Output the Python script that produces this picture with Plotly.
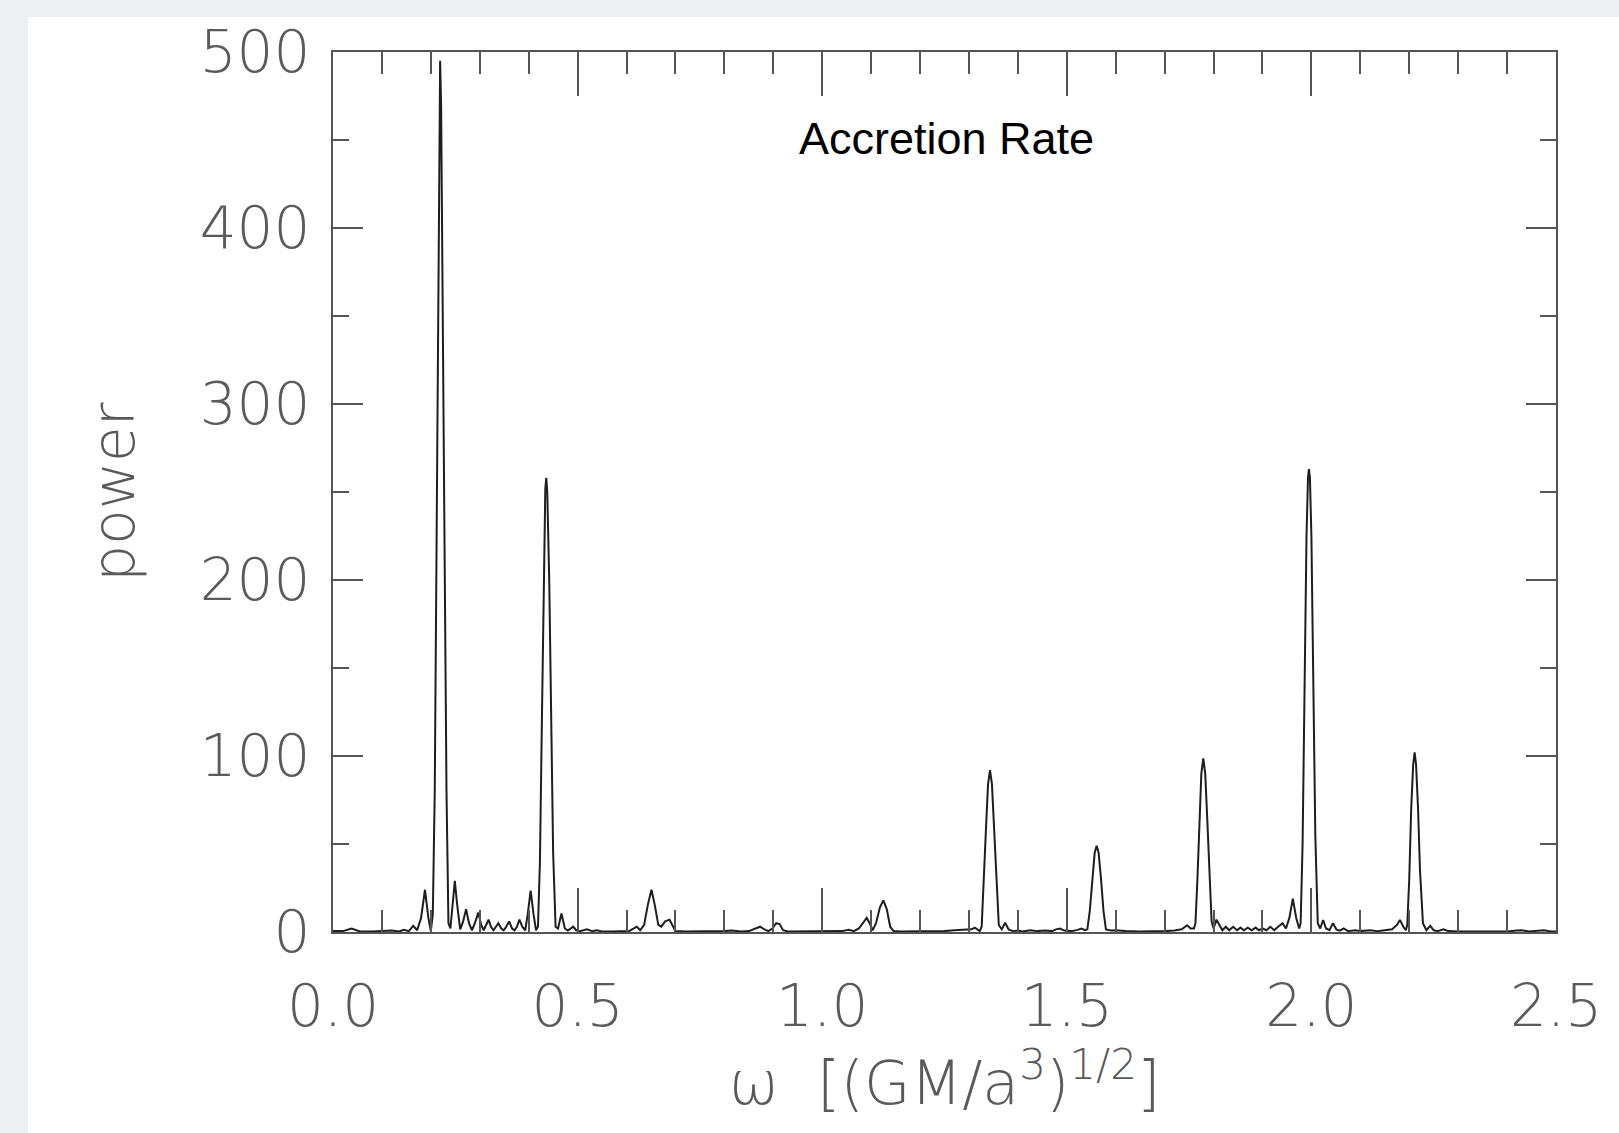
import plotly.graph_objects as go

# Frequency omega [(GM/a^3)^(1/2)] and spectral power
omega = [
    0.000, 0.020, 0.038, 0.055, 0.080, 0.100, 0.120, 0.135, 0.145, 0.155,
    0.164, 0.172, 0.180, 0.188, 0.195, 0.200,
    0.204, 0.208, 0.212, 0.215, 0.217, 0.219, 0.221, 0.224, 0.228, 0.232, 0.236,
    0.240, 0.244, 0.249, 0.254, 0.260, 0.266, 0.272, 0.278, 0.284, 0.290,
    0.297, 0.303, 0.308, 0.313, 0.318, 0.323, 0.328, 0.333, 0.338, 0.344,
    0.349, 0.354, 0.360, 0.366, 0.371, 0.376, 0.381, 0.387, 0.393, 0.398,
    0.404, 0.410, 0.415,
    0.419, 0.423, 0.427, 0.431, 0.434, 0.436, 0.438, 0.442, 0.446, 0.450, 0.455,
    0.460, 0.467, 0.474, 0.480, 0.486, 0.491, 0.497, 0.505, 0.519, 0.530,
    0.539, 0.550, 0.570, 0.590, 0.605, 0.615, 0.621, 0.628,
    0.636, 0.644, 0.651, 0.658, 0.665, 0.671, 0.679, 0.688, 0.695, 0.700,
    0.720, 0.750, 0.780, 0.800, 0.815, 0.835, 0.850, 0.862, 0.873, 0.882,
    0.890, 0.898, 0.906, 0.913, 0.920, 0.930, 0.950, 1.000, 1.040, 1.054,
    1.065, 1.075, 1.085, 1.091, 1.097, 1.103, 1.110, 1.118, 1.125, 1.132,
    1.139, 1.146, 1.160, 1.200, 1.230, 1.250, 1.270, 1.290, 1.305, 1.312,
    1.318, 1.322,
    1.326, 1.330, 1.335, 1.339, 1.343, 1.347, 1.351, 1.356, 1.361,
    1.367, 1.374, 1.381, 1.390, 1.400, 1.410, 1.425, 1.440, 1.455, 1.470,
    1.478, 1.486, 1.495, 1.510, 1.522, 1.530, 1.537,
    1.542, 1.547, 1.552, 1.557, 1.561, 1.565, 1.570, 1.575, 1.580,
    1.590, 1.600, 1.620, 1.650, 1.680, 1.700, 1.720, 1.735, 1.746, 1.753, 1.760,
    1.763, 1.767, 1.771, 1.775, 1.779, 1.783, 1.787, 1.791, 1.796,
    1.800, 1.806, 1.812, 1.818, 1.825, 1.832, 1.840, 1.848, 1.855, 1.862,
    1.870, 1.878, 1.886, 1.893, 1.900, 1.908, 1.916, 1.924, 1.932, 1.941,
    1.948, 1.955, 1.962, 1.969, 1.975,
    1.978, 1.982, 1.986, 1.990, 1.993, 1.995, 1.997, 2.000, 2.004, 2.008, 2.013,
    2.018, 2.024, 2.030, 2.037, 2.044, 2.051, 2.058, 2.066, 2.075, 2.090,
    2.100, 2.120, 2.135, 2.150, 2.165, 2.175, 2.181, 2.188, 2.193,
    2.196, 2.200, 2.204, 2.208, 2.211, 2.214, 2.218, 2.222, 2.228,
    2.235, 2.243, 2.250, 2.258, 2.270, 2.280, 2.300, 2.350, 2.400, 2.420,
    2.430, 2.445, 2.465, 2.475, 2.490, 2.500,
]
power = [
    0.5, 0.5, 2.0, 0.3, 0.3, 0.5, 0.8, 0.3, 1.2, 0.5,
    3.5, 1.0, 8.0, 24.0, 8.0, 0.5,
    10, 80, 230, 380, 460, 495, 470, 380, 220, 80, 5,
    2.0, 15, 29, 15, 1.5, 6, 13, 5, 1.0, 5,
    11, 4, 1.0, 4, 7, 3, 1.0, 3, 5, 2,
    1.0, 3, 6, 2, 1.0, 3, 7, 3, 1.0, 10,
    23.5, 10, 1.0,
    3, 40, 120, 210, 252, 258, 250, 200, 120, 45, 3,
    2, 10.5, 2, 0.8, 2, 3, 1.0, 0.5, 1.5, 0.5,
    1.0, 0.3, 0.3, 0.3, 0.5, 2, 3, 1.0,
    4, 16, 24, 15, 4, 3, 6, 7, 3, 0.5,
    0.3, 0.3, 0.3, 0.5, 0.8, 0.3, 0.5, 2, 3, 1.5,
    0.5, 2, 5, 4.5, 1.0, 0.3, 0.3, 0.3, 0.5, 1.2,
    0.5, 2, 6, 8, 5, 1.0, 5, 14, 18, 13,
    3, 0.5, 0.3, 0.3, 0.3, 0.5, 1.0, 1.2, 1.5, 2.5,
    1.5, 0.5,
    3, 25, 60, 84, 92, 84, 60, 28, 4,
    1.5, 5.3, 1.5, 0.5, 0.8, 0.3, 1.0, 0.5, 0.8, 0.5,
    1.5, 2, 0.8, 0.5, 1.2, 2, 1.0,
    1.5, 12, 30, 45, 49, 45, 30, 12, 1.5,
    0.8, 1.0, 0.5, 0.3, 0.3, 0.5, 0.8, 1.5, 3.8, 2, 2,
    5, 30, 65, 90, 98.7, 90, 65, 35, 6,
    2, 7, 4, 1.0, 3, 1.0, 3, 1.0, 2.5, 1.0,
    2.5, 1.0, 2.5, 1.0, 2, 1.0, 3, 1.0, 3, 5,
    2, 8, 19, 8, 2,
    5, 50, 140, 225, 258, 263, 258, 225, 140, 55, 5,
    2, 6.8, 2, 1.0, 5, 1.5, 0.8, 2, 0.5, 1.0,
    0.5, 1.0, 0.5, 1.0, 1.5, 4, 6.8, 3, 1.0,
    4, 30, 70, 95, 102, 95, 70, 35, 5,
    1.0, 3.5, 1.0, 0.5, 1.5, 0.5, 0.3, 0.3, 0.3, 0.8,
    1.0, 0.3, 0.8, 1.0, 0.3, 0.3,
]

x_tick_vals = [0.0, 0.5, 1.0, 1.5, 2.0, 2.5]
x_tick_text = ["0.0", "0.5", "1.0", "1.5", "2.0", "2.5"]
y_tick_vals = [0, 100, 200, 300, 400, 500]
y_tick_text = ["0", "100", "200", "300", "400", "500"]

W, H = 1619, 1133
L, R, T, B = 333, 1619 - 1556, 52, 1133 - 932
pw, ph = W - L - R, H - T - B

axis_grey = "#555555"
label_grey = "#5a5a5a"
tick_font = dict(family="DejaVu Sans", size=58, color=label_grey, weight=200)

fig = go.Figure()
fig.add_trace(go.Scatter(
    x=omega, y=power, mode="lines",
    line=dict(color="#1e1e1e", width=2),
    showlegend=False, hoverinfo="skip",
))

fig.update_layout(
    width=W, height=H,
    margin=dict(l=L, r=R, t=T, b=B, autoexpand=False),
    paper_bgcolor="#eeeff2",
    plot_bgcolor="white",
    showlegend=False,
    xaxis=dict(
        range=[0, 2.5], tickvals=x_tick_vals, ticktext=x_tick_text,
        ticks="inside", ticklen=44, tickwidth=2, tickcolor=axis_grey,
        minor=dict(dtick=0.1, ticks="inside", ticklen=22, tickwidth=2, tickcolor=axis_grey),
        showline=True, linecolor=axis_grey, linewidth=2, mirror="allticks",
        showgrid=False, zeroline=False,
        tickfont=tick_font, ticklabelstandoff=22,
        title=dict(text="ω  [(GM/a<sup>3</sup>)<sup>1/2</sup>]",
                   font=dict(family="DejaVu Sans", size=60, color=label_grey, weight=200),
                   standoff=6),
        automargin=False,
    ),
    yaxis=dict(
        range=[0, 500], tickvals=y_tick_vals, ticktext=y_tick_text,
        ticks="inside", ticklen=30, tickwidth=2, tickcolor=axis_grey,
        minor=dict(dtick=50, ticks="inside", ticklen=16, tickwidth=2, tickcolor=axis_grey),
        showline=True, linecolor=axis_grey, linewidth=2, mirror="allticks",
        showgrid=False, zeroline=False,
        tickfont=tick_font, ticklabelstandoff=9,
        title=dict(text="power",
                   font=dict(family="DejaVu Sans", size=58, color=label_grey, weight=200),
                   standoff=46),
        automargin=False,
    ),
    shapes=[dict(
        type="rect", xref="paper", yref="paper", layer="below",
        x0=(28 - L) / pw, x1=(W - L) / pw,
        y0=(932 - H) / ph, y1=(932 - 17) / ph,
        fillcolor="white", line=dict(width=0),
    )],
    annotations=[dict(
        text="Accretion Rate", xref="paper", yref="paper",
        x=(946 - L) / pw, y=(932 - 138) / ph, showarrow=False,
        xanchor="center", yanchor="middle",
        font=dict(family="Liberation Sans", size=45, color="black"),
    )],
)

fig.write_html("out.html")
